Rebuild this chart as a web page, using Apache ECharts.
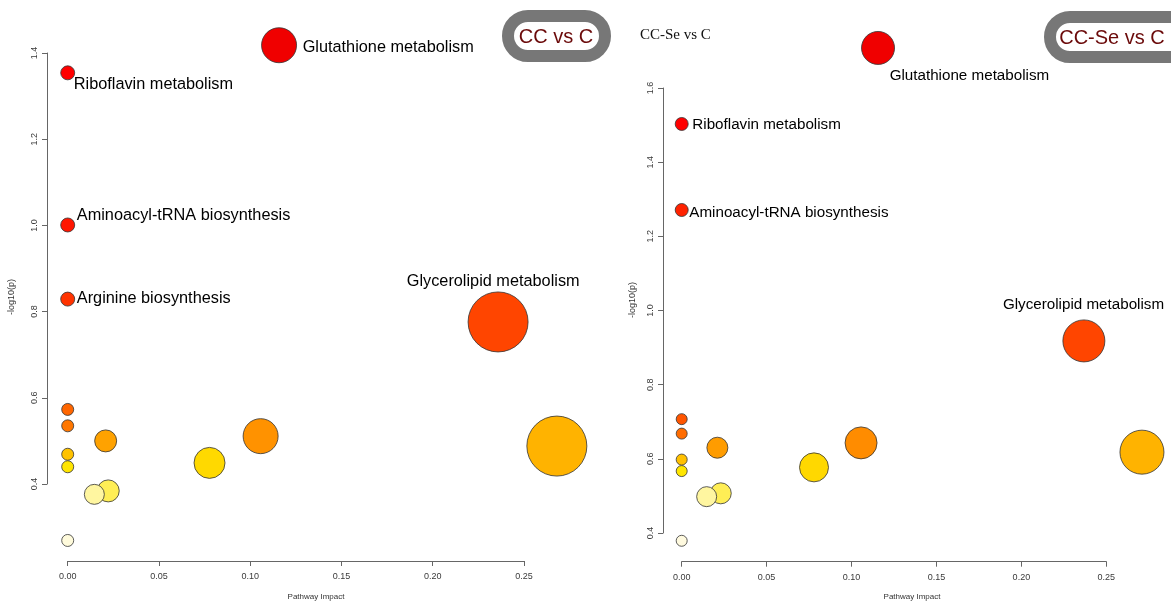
<!DOCTYPE html>
<html>
<head>
<meta charset="utf-8">
<script src="https://cdn.jsdelivr.net/npm/echarts@6/dist/echarts.min.js"></script>
<style>
html,body{margin:0;padding:0;background:#fff;}
#chart{width:1171px;height:602px;}
</style>
</head>
<body>
<div id="chart"></div>
<script>
// ---------- DATA ----------
const xTickLabels = ['0.00', '0.05', '0.10', '0.15', '0.20', '0.25'];
const leftYTickLabels = ['0.4', '0.6', '0.8', '1.0', '1.2', '1.4'];
const rightYTickLabels = ['0.4', '0.6', '0.8', '1.0', '1.2', '1.4', '1.6'];

// Left panel: CC vs C
const leftNames = ['Riboflavin metabolism', 'Aminoacyl-tRNA biosynthesis', 'Arginine biosynthesis',
  'Glutathione metabolism', 'Glycerolipid metabolism', '', '', '', '', '', '', '', '', '', '', ''];
const leftImpact = [0, 0, 0, 0.1158, 0.2358, 0, 0, 0, 0, 0, 0.0208, 0.0777, 0.1057, 0.0222, 0.0146, 0.268];
const leftLogP   = [1.354, 1.001, 0.829, 1.418, 0.776, 0.573, 0.535, 0.469, 0.440, 0.269, 0.500, 0.449, 0.511, 0.384, 0.376, 0.488];
const leftColor  = ['#FF0000', '#FF1500', '#FF3300', '#F00000', '#FF4500', '#FF6600', '#FF7700', '#FFC200',
  '#FFE500', '#FFFBDC', '#FFA200', '#FFD900', '#FF9200', '#FFEE55', '#FFF6A0', '#FFB300'];
const leftSize   = [14, 14, 14, 35, 60, 12, 12, 12, 12, 12, 22, 31, 35, 22, 20, 60];

// Right panel: CC-Se vs C
const rightNames = ['Riboflavin metabolism', 'Aminoacyl-tRNA biosynthesis', 'Glutathione metabolism',
  'Glycerolipid metabolism', '', '', '', '', '', '', '', '', '', '', ''];
const rightImpact = [0, 0, 0.1156, 0.2368, 0, 0, 0, 0, 0, 0.021, 0.0779, 0.1056, 0.023, 0.0147, 0.271];
const rightLogP   = [1.503, 1.271, 1.708, 0.918, 0.707, 0.668, 0.598, 0.567, 0.379, 0.630, 0.577, 0.643, 0.507, 0.498, 0.618];
const rightColor  = ['#FF0000', '#FF2200', '#F00000', '#FF4500', '#FF5500', '#FF6C00', '#FFC000', '#FFE600',
  '#FFFADF', '#FF9C00', '#FFD800', '#FF8C00', '#FFEE55', '#FFF6A0', '#FFB300'];
const rightSize   = [13, 13, 33, 42, 11, 11, 11, 11, 11, 21, 29, 32, 21, 20, 44];

// ---------- STYLE: label placement (offset from bubble centre) ----------
const leftLabelPlace = {
  'Glutathione metabolism': {align: 'left', dx: 24, dy: 3},
  'Riboflavin metabolism': {align: 'left', dx: 6.5, dy: 12},
  'Aminoacyl-tRNA biosynthesis': {align: 'left', dx: 9.5, dy: -9},
  'Arginine biosynthesis': {align: 'left', dx: 9.5, dy: 0},
  'Glycerolipid metabolism': {align: 'center', dx: -4.5, dy: -40}
};
const rightLabelPlace = {
  'Glutathione metabolism': {align: 'left', dx: 12, dy: 28},
  'Riboflavin metabolism': {align: 'left', dx: 11, dy: 1},
  'Aminoacyl-tRNA biosynthesis': {align: 'left', dx: 8, dy: 3},
  'Glycerolipid metabolism': {align: 'center', dx: 0, dy: -36}
};

function buildData(names, xs, ys, colors, sizes, place, fontSize) {
  return xs.map((x, i) => {
    const item = {
      value: [x, ys[i]],
      name: names[i],
      symbolSize: sizes[i],
      itemStyle: {color: colors[i], borderColor: '#333', borderWidth: 0.8, opacity: 1}
    };
    const p = place[names[i]];
    if (p) {
      const s = sizes[i];
      item.label = {
        show: true,
        formatter: names[i],
        position: [s / 2 + p.dx, s / 2 + p.dy],
        align: p.align,
        verticalAlign: 'middle',
        fontSize: fontSize,
        fontFamily: 'Liberation Sans, Arial, sans-serif',
        color: '#000',
        opacity: 1
      };
    }
    return item;
  });
}

const axisFont = 'Liberation Sans, Arial, sans-serif';
function xAxisCfg(gridIndex, offset) {
  return {
    gridIndex, type: 'value', min: 0, max: 0.25, interval: 0.05, offset,
    axisLine: {show: true, onZero: false, lineStyle: {color: '#666', width: 1}},
    axisTick: {show: true, inside: false, length: 5, lineStyle: {color: '#666'}},
    axisLabel: {fontSize: 9, color: '#3a3a3a', fontFamily: axisFont, margin: 11,
      formatter: v => xTickLabels[Math.round(v / 0.05)]},
    splitLine: {show: false}
  };
}
function yAxisCfg(gridIndex, max, offset, labels) {
  return {
    gridIndex, type: 'value', min: 0.4, max, interval: 0.2, offset,
    axisLine: {show: true, onZero: false, lineStyle: {color: '#666', width: 1}},
    axisTick: {show: true, length: 5, lineStyle: {color: '#666'}},
    axisLabel: {fontSize: 9, color: '#3a3a3a', fontFamily: axisFont, rotate: 90, margin: 8,
      formatter: v => labels[Math.round((v - 0.4) / 0.2)]},
    splitLine: {show: false}
  };
}

const chart = echarts.init(document.getElementById('chart'), null, {renderer: 'canvas'});
const option = {
  backgroundColor: '#fff',
  animation: false,
  grid: [
    {left: 67.7, top: 53, width: 456.3, height: 431},
    {left: 681.7, top: 88, width: 424.6, height: 445}
  ],
  xAxis: [xAxisCfg(0, 77), xAxisCfg(1, 28.7)],
  yAxis: [yAxisCfg(0, 1.4, 20.7, leftYTickLabels), yAxisCfg(1, 1.6, 18.7, rightYTickLabels)],
  series: [
    {type: 'scatter', xAxisIndex: 0, yAxisIndex: 0, clip: false,
      itemStyle: {opacity: 1}, emphasis: {disabled: true},
      data: buildData(leftNames, leftImpact, leftLogP, leftColor, leftSize, leftLabelPlace, 16.3)},
    {type: 'scatter', xAxisIndex: 1, yAxisIndex: 1, clip: false,
      itemStyle: {opacity: 1}, emphasis: {disabled: true},
      data: buildData(rightNames, rightImpact, rightLogP, rightColor, rightSize, rightLabelPlace, 15.2)}
  ],
  graphic: [
    // axis titles
    {type: 'text', x: 12, y: 297, rotation: Math.PI / 2,
      style: {text: '-log10(p)', fill: '#333', font: '9px Liberation Sans', align: 'center', verticalAlign: 'middle'}},
    {type: 'text', x: 633, y: 300, rotation: Math.PI / 2,
      style: {text: '-log10(p)', fill: '#333', font: '9px Liberation Sans', align: 'center', verticalAlign: 'middle'}},
    {type: 'text', x: 316, y: 597,
      style: {text: 'Pathway Impact', fill: '#333', font: '8px Liberation Sans', align: 'center', verticalAlign: 'middle'}},
    {type: 'text', x: 912, y: 597,
      style: {text: 'Pathway Impact', fill: '#333', font: '8px Liberation Sans', align: 'center', verticalAlign: 'middle'}},
    // title boxes
    {type: 'rect', shape: {x: 508, y: 16, width: 97, height: 40, r: 20},
      style: {fill: '#fff', stroke: '#777', lineWidth: 12}},
    {type: 'text', x: 556, y: 37,
      style: {text: 'CC vs C', fill: '#6B0A0A', font: '20px Liberation Sans', align: 'center', verticalAlign: 'middle'}},
    {type: 'rect', shape: {x: 1050, y: 17, width: 150, height: 40, r: 20},
      style: {fill: '#fff', stroke: '#777', lineWidth: 12}},
    {type: 'text', x: 1112, y: 38,
      style: {text: 'CC-Se vs C', fill: '#6B0A0A', font: '20px Liberation Sans', align: 'center', verticalAlign: 'middle'}},
    {type: 'text', x: 640, y: 35,
      style: {text: 'CC-Se vs C', fill: '#111', font: '15px Liberation Serif', align: 'left', verticalAlign: 'middle'}}
  ]
};
chart.setOption(option);
</script>
</body>
</html>
